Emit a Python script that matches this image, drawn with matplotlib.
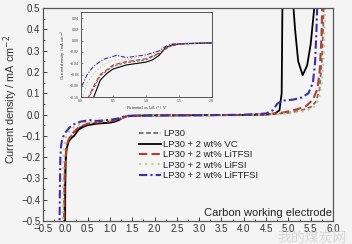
import matplotlib
matplotlib.use("Agg")
import matplotlib.pyplot as plt
from matplotlib.ticker import MultipleLocator

plt.rcParams['font.family'] = ['Liberation Sans', 'DejaVu Sans']

BG = '#f4f4f4'

# --- data ---
labels = ['LP30', 'LP30 + 2 wt% VC', 'LP30 + 2 wt% LiTFSI',
          'LP30 + 2 wt% LiFSI', 'LP30 + 2 wt% LiFTFSI']

lp30_x = [-0.03, -0.02, -0.01, 0.02, 0.08, 0.15, 0.3, 0.5, 0.7, 1.0, 1.2, 1.35, 1.5,
          2.0, 3.0, 4.0, 4.5, 5.0, 5.3, 5.5, 5.62, 5.7, 5.75, 5.78, 5.8]
lp30_y = [-0.55, -0.35, -0.25, -0.16, -0.115, -0.095, -0.062, -0.045, -0.039, -0.034, -0.023,
          -0.011, -0.006, -0.004, -0.003, -0.002, 0.0, 0.008, 0.02, 0.035, 0.06, 0.12, 0.25,
          0.4, 0.6]

vc_x = [-0.005, 0.0, 0.01, 0.03, 0.08, 0.15, 0.2, 0.3, 0.4, 0.5, 0.7, 1.0, 1.1, 1.2, 1.3,
        1.4, 1.6, 2.0, 3.0, 4.0, 4.5, 4.7, 4.8, 4.85, 4.87, 5.08, 5.15, 5.22, 5.32, 5.42,
        5.5, 5.58, 5.61]
vc_y = [-0.55, -0.35, -0.22, -0.16, -0.125, -0.108, -0.1, -0.07, -0.058, -0.05, -0.043,
        -0.038, -0.034, -0.026, -0.012, -0.007, -0.005, -0.004, -0.003, -0.002, 0.0, 0.005,
        0.02, 0.1, 0.6, 0.6, 0.4, 0.25, 0.185, 0.23, 0.33, 0.5, 0.6]

litfsi_x = [-0.025, -0.018, -0.01, 0.02, 0.06, 0.12, 0.2, 0.3, 0.5, 0.7, 1.0, 1.2, 1.35,
            1.5, 2.0, 3.0, 4.0, 4.5, 4.9, 5.2, 5.4, 5.55, 5.65, 5.7, 5.74, 5.77]
litfsi_y = [-0.55, -0.35, -0.25, -0.17, -0.125, -0.1, -0.08, -0.06, -0.043, -0.037, -0.032,
            -0.022, -0.01, -0.006, -0.004, -0.003, -0.002, 0.0, 0.01, 0.025, 0.04, 0.07,
            0.12, 0.2, 0.35, 0.6]

lifsi_x = [-0.06, -0.05, -0.04, -0.02, 0.0, 0.03, 0.1, 0.2, 0.35, 0.5, 0.7, 1.0, 1.2, 1.3,
           1.4, 2.0, 3.0, 4.0, 4.5, 5.0, 5.35, 5.55, 5.68, 5.75, 5.8, 5.83]
lifsi_y = [-0.55, -0.35, -0.22, -0.15, -0.115, -0.1, -0.075, -0.058, -0.042, -0.034, -0.033,
           -0.028, -0.02, -0.011, -0.006, -0.004, -0.003, -0.002, 0.0, 0.005, 0.015, 0.03,
           0.07, 0.15, 0.3, 0.6]

liftfsi_x = [-0.13, -0.12, -0.11, -0.09, -0.06, 0.0, 0.1, 0.2, 0.35, 0.55, 0.7, 1.0, 1.2,
             1.3, 1.4, 2.0, 3.0, 4.0, 4.5, 4.65, 4.75, 4.85, 5.1, 5.3, 5.45, 5.55, 5.6,
             5.63, 5.66]
liftfsi_y = [-0.55, -0.35, -0.2, -0.14, -0.11, -0.085, -0.06, -0.045, -0.033, -0.026, -0.03,
             -0.025, -0.018, -0.01, -0.006, -0.004, -0.003, -0.001, 0.005, 0.02, 0.05, 0.065,
             0.07, 0.08, 0.1, 0.15, 0.25, 0.4, 0.6]

series = [
    (lp30_x, lp30_y, dict(color='#6e6e6e', ls=(0, (2.5, 1.5)), lw=1.3)),
    (vc_x, vc_y, dict(color='black', ls='-', lw=1.3)),
    (litfsi_x, litfsi_y, dict(color='#b83a32', ls=(0, (4, 2)), lw=1.5)),
    (lifsi_x, lifsi_y, dict(color='#c6cc8c', ls=(0, (1, 2)), lw=1.5)),
    (liftfsi_x, liftfsi_y, dict(color='#3a2fa8', ls=(0, (4, 1.5, 1, 1.5)), lw=1.5)),
]

fig = plt.figure(figsize=(3.52, 2.44), dpi=100)
fig.patch.set_facecolor(BG)
ax = fig.add_axes([0.122, 0.094, 0.824, 0.873])
ax.set_facecolor(BG)

for (x, y, st), lab in zip(series, labels):
    ax.plot(x, y, label=lab, **st)

ax.set_xlim(-0.5, 6.0)
ax.set_ylim(-0.5, 0.5)
ax.xaxis.set_major_locator(MultipleLocator(0.5))
ax.xaxis.set_minor_locator(MultipleLocator(0.25))
ax.yaxis.set_major_locator(MultipleLocator(0.1))
ax.yaxis.set_minor_locator(MultipleLocator(0.05))
ax.tick_params(which='both', direction='in', colors='#444444', labelcolor='#333333',
               labelsize=7, width=0.7)
ax.tick_params(which='major', length=3)
ax.tick_params(which='minor', length=1.5)
ax.tick_params(axis='x', pad=2)
ax.tick_params(axis='y', pad=2)
for s in ax.spines.values():
    s.set_color('#555555')
    s.set_linewidth(0.9)
ax.set_ylabel('Current density / mA cm$^{-2}$', fontsize=7.8, color='#333333')
ax.yaxis.set_label_coords(-0.078, 0.57)
ax.text(0.995, 0.04, 'Carbon working electrode', transform=ax.transAxes,
        ha='right', va='center', fontsize=8, color='#222222')

ax.legend(loc='upper left', bbox_to_anchor=(0.33, 0.43), frameon=False, fontsize=6.8,
          handlelength=2.4, handletextpad=0.2, labelspacing=0.15, borderpad=0,
          borderaxespad=0, labelcolor='#222222')

# inset: zoom of 0 - 2 V
ins = fig.add_axes([0.229, 0.602, 0.372, 0.347])
ins.set_facecolor(BG)
for x, y, st in series:
    ins.plot(x, y, **dict(st, lw=0.8))
ins.set_xlim(0, 2.0)
ins.set_ylim(-0.10, 0.05)
ins.xaxis.set_major_locator(MultipleLocator(0.5))
ins.set_yticks([-0.10, -0.08, -0.06, -0.04, -0.02, 0.00, 0.02, 0.04])
ins.tick_params(direction='in', labelsize=2.5, length=1.5, width=0.4, pad=1,
                colors='#444444')
for s in ins.spines.values():
    s.set_color('#555555')
    s.set_linewidth(0.7)
ins.set_xlabel('Potential vs Li/Li$^{+}$ / V', fontsize=3, labelpad=1, color='#333333')
ins.set_ylabel('Current density / mA cm$^{-2}$', fontsize=3, labelpad=1, color='#333333')

# watermark
fig.text(0.985, 0.025, '我的煤炭网', ha='right', va='center', fontsize=10,
         color='#cccccc', alpha=0.7, family=['Noto Sans CJK SC', 'DejaVu Sans'])

fig.savefig('out.png', dpi=100, facecolor=BG)
